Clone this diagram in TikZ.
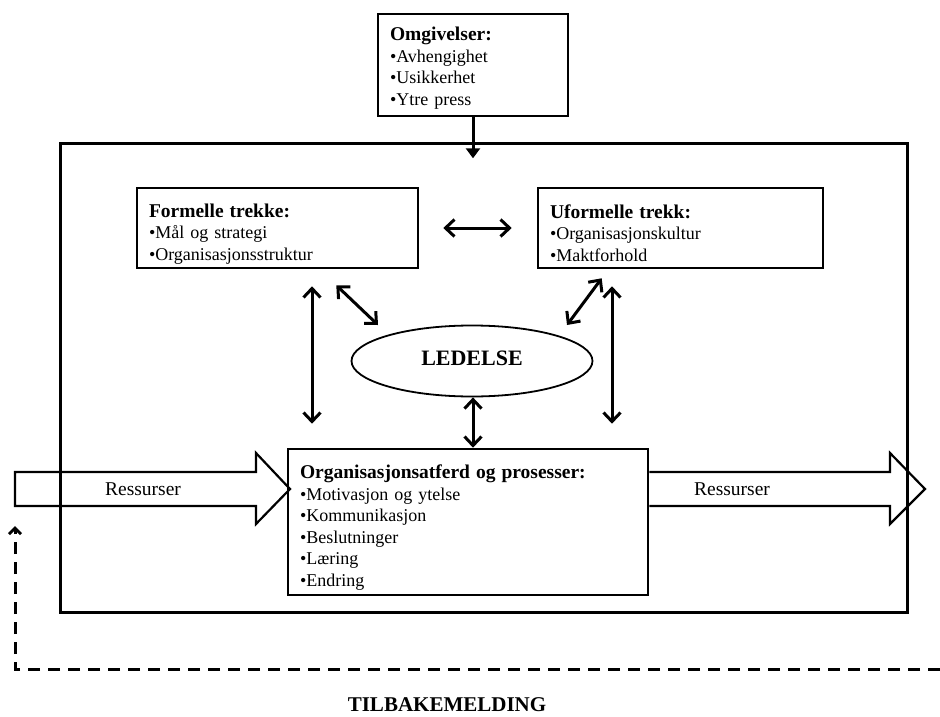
\documentclass[tikz,border=0pt]{standalone}
\usepackage{fontspec}
\setmainfont{Liberation Serif}
\usetikzlibrary{arrows.meta,shapes.geometric,calc}
\begin{document}
\begin{tikzpicture}[x=1pt,y=-1pt,
  box/.style={draw, line width=2.6pt, fill=white, align=left, inner xsep=12pt, inner ysep=0pt,
    font=\fontsize{18}{21.5}\selectfont},
  dbl/.style={line width=3pt, {Straight Barb[length=9pt,width=17pt]}-{Straight Barb[length=9pt,width=17pt]}},
  fat/.style={line width=2.2pt, line join=miter},
  lbl/.style={font=\fontsize{19.5}{22}\selectfont, inner sep=0pt},
  fb/.style={line width=3pt, dash pattern=on 12pt off 8pt, -{Straight Barb[length=6pt,width=12pt]}}]
\useasboundingbox (0,0) rectangle (940,717);
\newcommand{\hdr}[2]{\rule{0pt}{#1pt}{\fontsize{19.5}{21.5}\selectfont\bfseries #2}}

% outer frame
\node[draw, line width=3pt, minimum width=847pt, minimum height=469pt, inner sep=0pt] (frame) at (483.5,377.5) {};

% boxes
\node[box, text width=166pt, minimum height=102pt] (omg) at (473,65)
  {\hdr{19.5}{Omgivelser:}\\•Avhengighet\\•Usikkerhet\\•Ytre press};
\node[box, text width=257pt, minimum height=80pt] (formelle) at (277.5,228)
  {\hdr{25.5}{Formelle trekke:}\\•Mål og strategi\\•Organisasjonsstruktur};
\node[box, text width=261pt, minimum height=80pt] (uformelle) at (680.5,228)
  {\hdr{23.5}{Uformelle trekk:}\\•Organisasjonskultur\\•Maktforhold};
\node[box, text width=336pt, minimum height=146pt] (org) at (468,522)
  {\hdr{24.5}{Organisasjonsatferd og prosesser:}\\•Motivasjon og ytelse\\•Kommunikasjon\\•Beslutninger\\•Læring\\•Endring};
\node[draw, ellipse, line width=1.8pt, minimum width=241pt, minimum height=71pt, inner sep=0pt] (ledelse) at (472,361) {};
\node[font=\fontsize{22}{24}\selectfont\bfseries, inner sep=0pt] (ledtext) at ($(ledelse.center)+(0,-3)$) {LEDELSE};

% fat arrows (Ressurser)
\draw[fat] (15,472) -- (256,472) -- (256,453) -- (290,489) -- (256,524) -- (256,506) -- (15,506) -- cycle;
\draw[fat] (org.east |- 0,472) -- (890,472) -- (890,453) -- (925,489) -- (890,524) -- (890,506) -- (org.east |- 0,506);
\node[lbl] (resin) at (143,489) {Ressurser};
\node[lbl] (resout) at (732,489) {Ressurser};

% environment arrow
\draw[line width=3pt, -{Triangle[length=10pt,width=14pt]}] (omg.south) -- ++(0,41);

% double arrows
\draw[dbl, shorten <=24pt, shorten >=25pt] (formelle.east) -- (uformelle.west);
\draw[dbl] ($(formelle.south)+(34.5,17)$) -- ($(org.north)+(-156,-24)$);
\draw[dbl] ($(uformelle.south)+(-68.5,17)$) -- ($(org.north)+(144,-24)$);
\draw[dbl] ($(formelle.south east)+(-83,16)$) -- ($(ledelse.center)+(-94,-36)$);
\draw[dbl] ($(uformelle.south west)+(65,9)$) -- ($(ledelse.center)+(95,-36)$);
\draw[dbl] ($(ledelse.south)+(1,0)$) -- ($(org.north)+(5,0)$);

% feedback
\coordinate (fbstart) at (940,669);
\coordinate (fbend) at (15,526);
\draw[fb] (fbstart) -| (fbend);
\node[font=\fontsize{21}{24}\selectfont\bfseries, inner sep=0pt] (tilbake) at (447,705) {TILBAKEMELDING};
\end{tikzpicture}
\end{document}
